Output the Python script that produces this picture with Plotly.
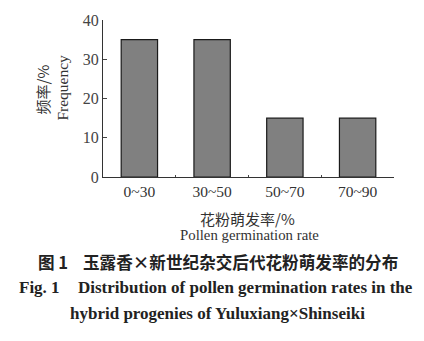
import plotly.graph_objects as go

categories = ["0~30", "30~50", "50~70", "70~90"]
frequency = [35, 35, 15, 15]
y_ticks = [0, 10, 20, 30, 40]

serif = "Liberation Serif"
cjk = "Noto Sans CJK SC"
txt = "#333333"

W, H = 424, 341
L, R, T, B = 103, 30, 12, 164

fig = go.Figure(go.Bar(
    x=categories, y=frequency, width=0.5,
    marker=dict(color="#808080", line=dict(color="#1a1a1a", width=1.2)),
))

fig.update_layout(
    width=W, height=H,
    margin=dict(l=L, r=R, t=T, b=B),
    paper_bgcolor="white", plot_bgcolor="white",
    showlegend=False,
    font=dict(family=serif, color=txt),
)
fig.update_yaxes(
    range=[0, 40], tickvals=y_ticks, ticks="inside", ticklen=4,
    showline=True, linecolor="#333", linewidth=1, showgrid=False, zeroline=False,
    tickfont=dict(family=serif, size=16, color="#444"),
)
fig.update_xaxes(
    ticks="inside", ticklen=2, tickson="boundaries",
    showline=True, linecolor="#333", linewidth=1, showgrid=False,
    tickfont=dict(family=serif, size=15.5, color="#333"),
)

ann = [
    dict(text="频率/%", x=42, y=85, font=dict(family=cjk, size=15, color=txt), textangle=-90),
    dict(text="Frequency", x=63, y=83, font=dict(family=serif, size=15.5, color=txt), textangle=-90),
    dict(text="花粉萌发率/%", x=247, y=221, font=dict(family=cjk, size=15, color=txt)),
    dict(text="Pollen germination rate", x=249, y=238, font=dict(family=serif, size=14.8, color=txt)),
    dict(text="<b>图 1</b>", x=36, y=266, xanchor="left", font=dict(family=cjk, size=16.6, color="#222")),
    dict(text="<b>玉露香×新世纪杂交后代花粉萌发率的分布</b>", x=81, y=266, xanchor="left", font=dict(family=cjk, size=16.6, color="#222")),
    dict(text="<b>Fig. 1</b>", x=17, y=293, xanchor="left", font=dict(family=serif, size=17, color="#222")),
    dict(text="<b>Distribution of pollen germination rates in the</b>", x=76, y=293, xanchor="left", font=dict(family=serif, size=17, color="#222")),
    dict(text="<b>hybrid progenies of Yuluxiang×Shinseiki</b>", x=217, y=320, font=dict(family=serif, size=17, color="#222")),
]
pw, ph = W - L - R, H - T - B
for a in ann:
    fig.add_annotation(
        text=a["text"],
        x=(a["x"] - L) / pw, y=1 - (a["y"] - T) / ph,
        xref="paper", yref="paper",
        showarrow=False, font=a["font"], textangle=a.get("textangle", 0),
        xanchor=a.get("xanchor", "center"), yanchor="middle",
    )

fig.write_html("out.html")
